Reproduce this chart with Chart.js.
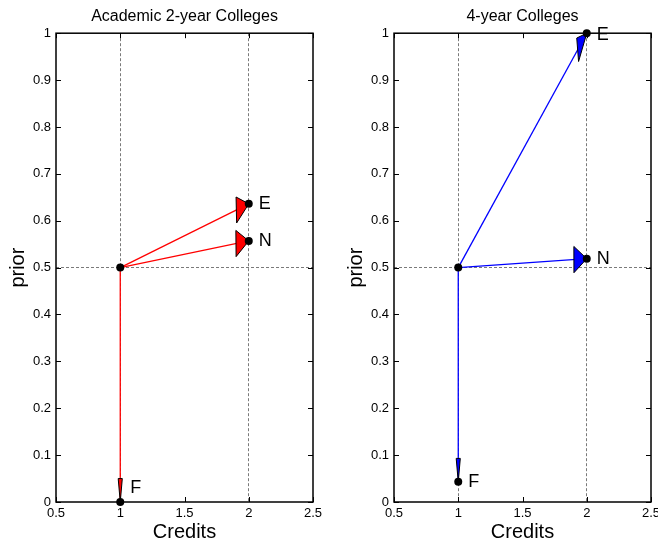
<!DOCTYPE html>
<html>
<head>
<meta charset="utf-8">
<script src="https://cdn.jsdelivr.net/npm/chart.js@4.4.1/dist/chart.umd.min.js"></script>
<style>
  body { margin: 0; background: #fff; overflow: hidden; }
  canvas { position: absolute; top: 0; }
  #left { left: 0; }
  #right { left: 338px; }
</style>
</head>
<body>
<canvas id="left" width="329" height="540"></canvas>
<canvas id="right" width="330" height="540"></canvas>
<script>
// arrow start and end points per group (E, N, F)
const groups = ['E', 'N', 'F'];
const startCredits = 1;
const startPrior = 0.5;
const twoYearCredits = [2, 2, 1];
const twoYearPrior = [0.636, 0.557, 0];
const fourYearCredits = [2, 2, 1];
const fourYearPrior = [1.0, 0.519, 0.043];

const xTicks = [0.5, 1, 1.5, 2, 2.5];
const yTicks = [0, 0.1, 0.2, 0.3, 0.4, 0.5, 0.6, 0.7, 0.8, 0.9, 1];
const xGrid = [1, 2];
const yGrid = [0.5];

Chart.defaults.font.family = '"Liberation Sans", Arial, sans-serif';
Chart.defaults.color = '#000';

const HEAD_LEN = 0.05;     // along the arrow, axis-normalised units
const HEAD_HALF_X = 0.016; // head half-width, data units
const HEAD_HALF_Y = 0.028;
const TICK_LEN = 5;

function makeChart(id, title, credits, prior, color, labelShift, padRight) {
  const pointData = [{ x: startCredits, y: startPrior }];
  credits.forEach((c, i) => pointData.push({ x: c, y: prior[i] }));

  const datasets = [{
    data: pointData,
    backgroundColor: '#000',
    borderWidth: 0,
    pointRadius: 4,
    clip: false
  }];
  credits.forEach((c, i) => {
    datasets.push({
      data: [{ x: startCredits, y: startPrior }, { x: c, y: prior[i] }],
      showLine: true,
      borderColor: color,
      borderWidth: 1.3,
      pointRadius: 0,
      clip: false
    });
  });

  const decor = {
    id: 'decor',
    afterDatasetDraw(chart, args) {
      if (args.index !== 1) return;
      const xs = chart.scales.x, ys = chart.scales.y, ctx = chart.ctx;
      const xr = xs.max - xs.min, yr = ys.max - ys.min;
      ctx.save();
      credits.forEach((c, i) => {
        const p = prior[i];
        const dx = c - startCredits, dy = p - startPrior;
        const nl = Math.hypot(dx / xr, dy / yr);
        const bx = c - HEAD_LEN * dx / nl;
        const by = p - HEAD_LEN * dy / nl;
        const dl = Math.hypot(dx, dy);
        const ox = -dy / dl * HEAD_HALF_X, oy = dx / dl * HEAD_HALF_Y;
        ctx.beginPath();
        ctx.moveTo(xs.getPixelForValue(c), ys.getPixelForValue(p));
        ctx.lineTo(xs.getPixelForValue(bx + ox), ys.getPixelForValue(by + oy));
        ctx.lineTo(xs.getPixelForValue(bx - ox), ys.getPixelForValue(by - oy));
        ctx.closePath();
        ctx.fillStyle = color;
        ctx.fill();
        ctx.strokeStyle = '#000';
        ctx.lineWidth = 1;
        ctx.stroke();
      });
      ctx.restore();
    },
    afterDraw(chart) {
      const xs = chart.scales.x, ys = chart.scales.y, ctx = chart.ctx;
      const a = chart.chartArea;
      ctx.save();
      ctx.strokeStyle = '#000';
      ctx.lineWidth = 1.5;
      ctx.strokeRect(a.left, a.top, a.right - a.left, a.bottom - a.top);
      ctx.lineWidth = 1;
      ctx.beginPath();
      xTicks.forEach(v => {
        const x = Math.round(xs.getPixelForValue(v)) + 0.5;
        ctx.moveTo(x, a.bottom); ctx.lineTo(x, a.bottom - TICK_LEN);
        ctx.moveTo(x, a.top); ctx.lineTo(x, a.top + TICK_LEN);
      });
      yTicks.forEach(v => {
        const y = Math.round(ys.getPixelForValue(v)) + 0.5;
        ctx.moveTo(a.left, y); ctx.lineTo(a.left + TICK_LEN, y);
        ctx.moveTo(a.right, y); ctx.lineTo(a.right - TICK_LEN, y);
      });
      ctx.stroke();

      ctx.font = '18px "Liberation Sans", Arial, sans-serif';
      ctx.fillStyle = '#000';
      ctx.textBaseline = 'middle';
      ctx.textAlign = 'left';
      credits.forEach((c, i) => {
        ctx.fillText(groups[i], xs.getPixelForValue(c) + 10,
          ys.getPixelForValue(prior[i]) + labelShift[i]);
      });
      ctx.restore();
    }
  };

  return new Chart(document.getElementById(id), {
    type: 'scatter',
    data: { datasets },
    options: {
      responsive: false,
      animation: false,
      layout: { padding: { left: 0, right: padRight, top: 0, bottom: 0 } },
      plugins: {
        legend: { display: false },
        tooltip: { enabled: false },
        title: {
          display: true,
          text: title,
          fullSize: false,
          font: { size: 16, weight: 'normal' },
          color: '#000',
          padding: { top: 7, bottom: 7 }
        }
      },
      scales: {
        x: {
          type: 'linear',
          min: 0.5,
          max: 2.5,
          afterBuildTicks: s => { s.ticks = xTicks.map(v => ({ value: v })); },
          afterFit: s => { s.height = 38; },
          ticks: { font: { size: 13 }, color: '#000', padding: 4, maxRotation: 0, autoSkip: false,
            callback: v => String(v) },
          grid: {
            drawTicks: false,
            lineWidth: 1,
            color: c => (c.tick && xGrid.includes(c.tick.value)) ? '#7a7a7a' : 'rgba(0,0,0,0)'
          },
          border: { display: false, dash: [3, 2] },
          title: { display: true, text: 'Credits', font: { size: 20, lineHeight: 0.8 }, color: '#000', padding: 0 }
        },
        y: {
          type: 'linear',
          min: 0,
          max: 1,
          afterBuildTicks: s => { s.ticks = yTicks.map(v => ({ value: v })); },
          afterFit: s => { s.width = 56; },
          ticks: { font: { size: 13 }, color: '#000', padding: 5, autoSkip: false,
            callback: v => String(v) },
          grid: {
            drawTicks: false,
            lineWidth: 1,
            color: c => (c.tick && yGrid.includes(c.tick.value)) ? '#7a7a7a' : 'rgba(0,0,0,0)'
          },
          border: { display: false, dash: [3, 2] },
          title: { display: true, text: 'prior', font: { size: 20 }, color: '#000', padding: { top: 6, bottom: 0 } }
        }
      }
    },
    plugins: [decor]
  });
}

makeChart('left', 'Academic 2-year Colleges', twoYearCredits, twoYearPrior, '#ff0000', [0, 0, -14], 16);
makeChart('right', '4-year Colleges', fourYearCredits, fourYearPrior, '#0000ff', [2, 0, 0], 17);
</script>
</body>
</html>
